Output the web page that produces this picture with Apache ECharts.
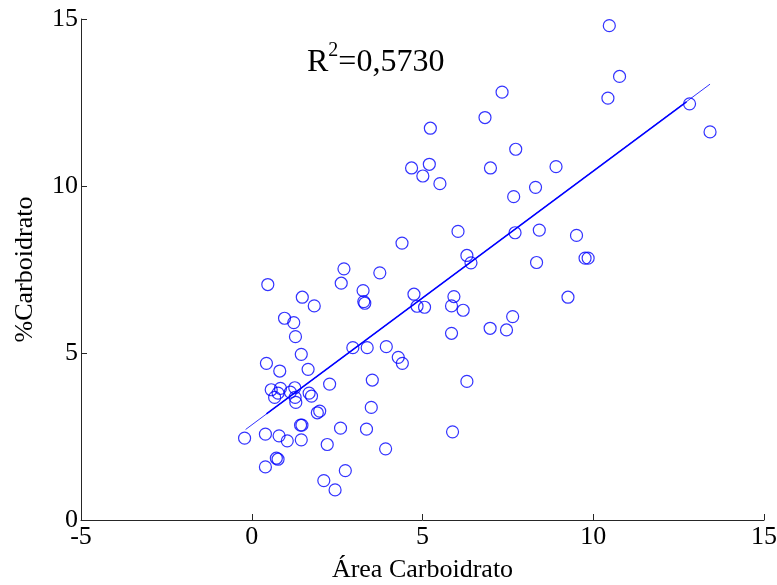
<!DOCTYPE html>
<html>
<head>
<meta charset="utf-8">
<script src="https://cdn.jsdelivr.net/npm/echarts@6/dist/echarts.min.js"></script>
<style>
  html, body { margin: 0; padding: 0; background: #fff; }
  #chart { width: 777px; height: 585px; }
</style>
</head>
<body>
<div id="chart"></div>
<script>
// pontos
var areaX = [-0.21, 0.40, 0.80, 1.04, 1.45, 1.43, 1.47, 1.92, 1.99, 2.60, 2.21, 0.72, 0.77, 0.40, 2.11, 2.44, 2.74,
  3.36, 3.50, 3.92, 3.53, 2.28, 2.96, 3.38, 3.94, 4.29, 4.41, 0.57, 0.67, 0.77, 0.84, 1.13, 1.26, 1.27, 1.29, 1.68,
  1.75, 0.43, 0.82, 1.65, 1.45, 1.28, 1.23, 0.96, 1.83, 1.48, 0.47, 2.62, 2.70, 3.26, 3.28, 3.31, 3.75, 4.75, 4.84,
  5.06, 4.40, 4.68, 5.20, 5.01, 5.51, 5.23, 6.83, 7.33, 6.99, 7.73, 8.91, 8.31, 7.67, 6.04, 7.71, 8.42, 9.51, 9.76,
  9.85, 8.34, 6.30, 6.42, 5.92, 5.85, 6.19, 7.64, 6.98, 7.46, 5.85, 9.26, 6.30, 5.88, 10.47, 10.77, 10.43, 12.82, 13.42];
var carbY = [2.45, 2.57, 2.52, 2.37, 2.40, 2.84, 2.84, 3.21, 3.26, 2.75, 2.26, 1.85, 1.82, 1.59, 1.18, 0.90, 1.48,
  2.72, 3.37, 2.13, 4.19, 4.07, 5.16, 5.16, 5.19, 4.87, 4.69, 3.90, 3.67, 3.80, 3.94, 3.83, 3.96, 3.67, 3.52, 3.80,
  3.71, 4.69, 4.46, 4.51, 4.96, 5.49, 5.91, 6.04, 6.41, 6.67, 7.05, 7.09, 7.52, 6.87, 6.54, 6.49, 7.40, 6.76, 6.40,
  6.37, 8.29, 10.54, 10.65, 10.30, 10.07, 11.73, 12.05, 12.81, 10.54, 11.10, 10.58, 9.96, 9.68, 8.64, 8.60, 8.68, 8.52, 7.84,
  7.84, 7.71, 7.92, 7.70, 6.69, 6.41, 6.28, 6.09, 5.74, 5.69, 5.59, 6.67, 4.15, 2.64, 14.80, 13.28, 12.63, 12.46, 11.62];

// reta ajustada (extremos)
var fitX = [-0.18, 13.42];
var fitY = [2.71, 13.05];
var fitMidX = [0.43, 12.73];
var fitMidY = [3.18, 12.52];

var xTicks = [-5, 0, 5, 10, 15];
var yTicks = [0, 5, 10, 15];
var r2Text = '0,5730';

var pts = areaX.map(function (x, i) { return [x, carbY[i]]; });
var fontSerif = '"Liberation Serif", "Times New Roman", serif';

var chart = echarts.init(document.getElementById('chart'));
var option = {
  animation: false,
  backgroundColor: '#fff',
  grid: { left: 81, right: 13, top: 19, bottom: 65, containLabel: false, outerBoundsMode: 'none' },
  xAxis: {
    type: 'value',
    min: xTicks[0], max: xTicks[xTicks.length - 1], interval: 5,
    name: 'Área Carboidrato',
    nameLocation: 'middle',
    nameGap: 37,
    nameTextStyle: { fontFamily: fontSerif, fontSize: 26, color: '#000' },
    axisLine: { onZero: false, lineStyle: { color: '#262626', width: 1 } },
    axisTick: { inside: true, length: 6, lineStyle: { color: '#262626' } },
    axisLabel: { fontFamily: fontSerif, fontSize: 26, color: '#000', margin: 4 },
    splitLine: { show: false }
  },
  yAxis: {
    type: 'value',
    min: yTicks[0], max: yTicks[yTicks.length - 1], interval: 5,
    name: '%Carboidrato',
    nameLocation: 'middle',
    nameGap: 43,
    nameTextStyle: { fontFamily: fontSerif, fontSize: 26, color: '#000' },
    axisLine: { show: true, onZero: false, lineStyle: { color: '#262626', width: 1 } },
    axisTick: { show: true, inside: true, length: 6, lineStyle: { color: '#262626' } },
    axisLabel: { fontFamily: fontSerif, fontSize: 26, color: '#000', margin: 3 },
    splitLine: { show: false }
  },
  graphic: [{
    type: 'text',
    left: 307, top: 41,
    style: {
      text: '{a|R}{s|2}{a|=' + r2Text + '}',
      rich: {
        a: { fontFamily: fontSerif, fontSize: 32, fill: '#000', verticalAlign: 'bottom', lineHeight: 38 },
        s: { fontFamily: fontSerif, fontSize: 20, fill: '#000', verticalAlign: 'top', lineHeight: 38 }
      }
    }
  }],
  series: [
    {
      type: 'scatter',
      data: pts,
      symbol: 'circle',
      symbolSize: 12,
      itemStyle: { color: 'rgba(0,0,0,0)', borderColor: '#0000ff', borderWidth: 1.2 },
      z: 3
    },
    {
      type: 'line',
      data: [[fitX[0], fitY[0]], [fitX[1], fitY[1]]],
      symbol: 'none',
      lineStyle: { color: '#0000ff', width: 0.8 },
      z: 2
    },
    {
      type: 'line',
      data: [[fitMidX[0], fitMidY[0]], [fitMidX[1], fitMidY[1]]],
      symbol: 'none',
      lineStyle: { color: '#0000ff', width: 1.6 },
      z: 2
    }
  ]
};
chart.setOption(option);
</script>
</body>
</html>
